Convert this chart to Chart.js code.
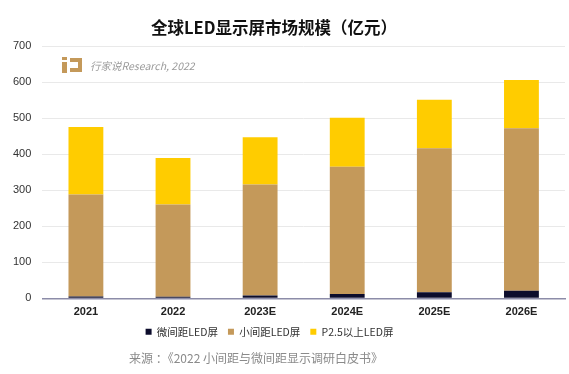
<!DOCTYPE html>
<html>
<head>
<meta charset="utf-8">
<script src="https://cdn.jsdelivr.net/npm/chart.js@4/dist/chart.umd.min.js"></script>
<style>
  body { margin: 0; background: #fff; font-family: "Noto Sans CJK SC", "Liberation Sans", sans-serif; }
  #wrap { position: relative; width: 569px; height: 374px; }
  #chart { position: absolute; left: 0; top: 0; }
  #title { position: absolute; left: 0; width: 548px; top: 15px; text-align: center;
    font-size: 16.5px; font-weight: bold; color: #111; }
  #mark { position: absolute; left: 62px; top: 57px; height: 18px; }
  #mark .ico1 { position: absolute; left: 0; top: 5px; width: 5px; height: 11px; background: #c4995a; }
  #mark .ico0 { position: absolute; left: 0; top: 0; width: 5px; height: 3px; background: #c4995a; }
  #mark .ico2 { position: absolute; left: 8px; top: 1px; width: 12px; height: 14px; border: 4px solid #c4995a; border-left: none; box-sizing: border-box; }
  #mark .txt { position: absolute; left: 28px; top: 1px; white-space: nowrap; font-size: 10.5px; color: #9a9a9a; font-style: italic; }
  #src { position: absolute; left: 0; width: 512px; top: 349px; text-align: center; font-size: 12px; color: #8a8a8a; }
</style>
</head>
<body>
<div id="wrap">
  <canvas id="chart" width="569" height="374"></canvas>
  <div id="title">全球LED显示屏市场规模（亿元）</div>
  <div id="mark"><span class="ico0"></span><span class="ico1"></span><span class="ico2"></span><span class="txt">行家说Research, 2022</span></div>
  <div id="src">来源 ：《2022 小间距与微间距显示调研白皮书》</div>
</div>
<script>
const years = ['2021', '2022', '2023E', '2024E', '2025E', '2026E'];
const microLed = [5, 4, 8, 12, 17, 21];
const smallPitch = [283, 256, 308, 353, 399, 451];
const p25Plus = [187, 129, 131, 136, 135, 134];
const yTicks = [0, 100, 200, 300, 400, 500, 600, 700];

// nudge the legend a bit left and up, like the original
const shiftLegend = {
  id: 'shiftLegend',
  afterLayout(chart) {
    const lg = chart.legend;
    lg.left -= 14;
    lg.right -= 14;
    lg.top -= 9;
    lg.bottom -= 9;
  }
};

const ctx = document.getElementById('chart').getContext('2d');
new Chart(ctx, {
  type: 'bar',
  data: {
    labels: years,
    datasets: [
      { label: '微间距LED屏', data: microLed, backgroundColor: '#0c0c2c' },
      { label: '小间距LED屏', data: smallPitch, backgroundColor: '#c4995a' },
      { label: 'P2.5以上LED屏', data: p25Plus, backgroundColor: '#ffcc00' }
    ]
  },
  options: {
    responsive: false,
    animation: false,
    datasets: { bar: { barPercentage: 0.4, categoryPercentage: 1 } },
    layout: { padding: { top: 46, left: 2, right: 4, bottom: 18 } },
    scales: {
      x: {
        stacked: true,
        grid: { display: false, drawTicks: false },
        border: { color: '#8c8ca8', width: 1.5 },
        ticks: { padding: 7, color: '#222', font: { size: 11, weight: 'bold', family: 'Liberation Sans' } }
      },
      y: {
        stacked: true,
        min: 0,
        max: yTicks[yTicks.length - 1],
        afterBuildTicks: axis => { axis.ticks = yTicks.map(v => ({ value: v })); },
        grid: { color: '#e9e9e9', drawTicks: false },
        border: { display: false },
        ticks: { padding: 11, color: '#333', font: { size: 11, family: 'Liberation Sans' } }
      }
    },
    plugins: {
      legend: {
        position: 'bottom',
        labels: {
          boxWidth: 6, boxHeight: 6, padding: 10, color: '#333',
          font: { size: 10.5, family: 'Noto Sans CJK SC' }
        }
      },
      tooltip: { enabled: false }
    }
  },
  plugins: [shiftLegend]
});
</script>
</body>
</html>
